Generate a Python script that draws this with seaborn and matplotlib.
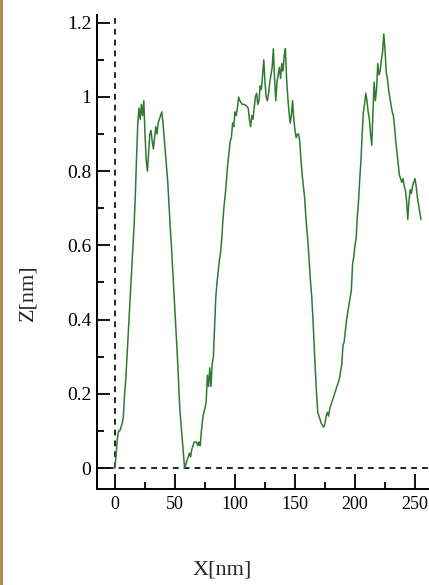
import numpy as np
import pandas as pd
import matplotlib
matplotlib.use("Agg")
import matplotlib.pyplot as plt
import seaborn as sns
from matplotlib.patches import Rectangle

# ===== DATA =====
x_nm = [0, 1, 2, 3, 4, 5, 6, 7, 8, 9, 10, 11, 12, 13, 14, 15, 16, 17, 18, 19,
        20, 21, 22, 23, 24, 25, 26, 27, 28, 29, 30, 31, 32, 33, 34, 35, 36, 37, 38, 39,
        40, 41, 42, 43, 44, 45, 46, 47, 48, 49, 50, 51, 52, 53, 54, 55, 56, 57, 58, 59,
        60, 61, 62, 63, 64, 65, 66, 67, 68, 69, 70, 71, 72, 73, 74, 75, 76, 77, 78, 79,
        80, 81, 82, 83, 84, 85, 86, 87, 88, 89, 90, 91, 92, 93, 94, 95, 96, 97, 98, 99,
        100, 101, 102, 103, 104, 106, 108, 110, 111, 112, 113, 114, 115, 116, 117, 118, 119,
        120, 121, 122, 123, 124, 125, 126, 127, 128, 129, 130, 131, 132, 133, 134, 135, 136,
        137, 138, 139, 140, 141, 142, 143, 144, 145, 146, 147, 148, 149, 150, 151, 152, 153,
        154, 155, 156, 157, 158, 159, 160, 161, 162, 163, 164, 165, 166, 167, 168, 169, 170,
        171, 172, 173, 174, 175, 176, 177, 178, 179, 180, 181, 182, 183, 184, 185, 186, 187,
        188, 189, 190, 191, 192, 193, 194, 195, 196, 197, 198, 199, 200, 201, 202, 203, 204,
        205, 206, 207, 208, 209, 210, 211, 212, 213, 214, 215, 216, 217, 218, 219, 220, 221,
        222, 223, 224, 225, 226, 227, 228, 229, 230, 231, 232, 233, 234, 235, 236, 237, 238,
        239, 240, 241, 242, 243, 244, 245, 246, 247, 248, 249, 250, 251, 252, 253, 254, 255]
z_nm = [0.00, 0.04, 0.08, 0.10, 0.10, 0.11, 0.12, 0.14, 0.20, 0.24, 0.30, 0.36, 0.42, 0.48, 0.54, 0.60, 0.66, 0.74, 0.84, 0.93,
        0.97, 0.94, 0.98, 0.95, 0.99, 0.90, 0.83, 0.80, 0.85, 0.90, 0.91, 0.88, 0.86, 0.89, 0.92, 0.90, 0.93, 0.94, 0.95, 0.96,
        0.93, 0.89, 0.85, 0.81, 0.77, 0.71, 0.65, 0.60, 0.54, 0.48, 0.42, 0.36, 0.30, 0.23, 0.16, 0.12, 0.08, 0.04, 0.00, 0.01,
        0.02, 0.03, 0.04, 0.03, 0.05, 0.06, 0.07, 0.07, 0.07, 0.06, 0.07, 0.06, 0.10, 0.13, 0.15, 0.16, 0.18, 0.25, 0.22, 0.27,
        0.22, 0.28, 0.30, 0.38, 0.46, 0.50, 0.53, 0.56, 0.58, 0.62, 0.67, 0.71, 0.74, 0.78, 0.82, 0.85, 0.88, 0.89, 0.93, 0.92,
        0.96, 0.95, 0.97, 1.00, 0.99, 0.98, 0.98, 0.975, 0.97, 0.94, 0.92, 0.95, 0.94, 0.97, 1.00, 1.01, 0.98,
        0.99, 1.03, 1.02, 1.06, 1.10, 1.04, 1.00, 0.99, 1.01, 1.04, 1.06, 1.08, 1.13, 1.05, 0.99, 1.04, 1.06,
        1.08, 1.05, 1.09, 1.07, 1.11, 1.13, 1.05, 1.00, 0.96, 0.93, 0.95, 0.99, 0.94, 0.91, 0.89, 0.90, 0.90,
        0.88, 0.83, 0.79, 0.76, 0.73, 0.68, 0.64, 0.60, 0.55, 0.50, 0.46, 0.40, 0.33, 0.26, 0.20, 0.15, 0.14,
        0.13, 0.12, 0.115, 0.11, 0.12, 0.14, 0.15, 0.14, 0.16, 0.17, 0.18, 0.19, 0.20, 0.21, 0.22, 0.23, 0.24,
        0.26, 0.28, 0.33, 0.34, 0.37, 0.40, 0.42, 0.44, 0.46, 0.48, 0.55, 0.57, 0.60, 0.62, 0.68, 0.72, 0.78,
        0.83, 0.90, 0.96, 0.98, 1.01, 0.99, 0.96, 0.94, 0.90, 0.87, 0.96, 1.04, 0.99, 1.02, 1.09, 1.06, 1.07,
        1.10, 1.12, 1.17, 1.13, 1.07, 1.05, 1.02, 1.00, 0.98, 0.96, 0.95, 0.92, 0.88, 0.85, 0.82, 0.79, 0.78,
        0.77, 0.78, 0.76, 0.75, 0.72, 0.67, 0.72, 0.75, 0.74, 0.76, 0.77, 0.78, 0.76, 0.73, 0.71, 0.69, 0.67]

x_ticks = [0, 50, 100, 150, 200, 250]
y_ticks = [0, 0.2, 0.4, 0.6, 0.8, 1, 1.2]
y_ticklabels = ["0", "0.2", "0.4", "0.6", "0.8", "1", "1.2"]

df = pd.DataFrame({"X": x_nm, "Z": z_nm})

# ===== STYLE =====
sns.set_style("ticks")
plt.rcParams["font.family"] = ["Liberation Serif", "DejaVu Serif"]

W, H = 429, 585
fig = plt.figure(figsize=(W / 100, H / 100), dpi=100)
fig.patch.set_facecolor("white")

# axes box in pixel terms: y-axis at x=97, x-axis at y=489, top at y=15
ax = fig.add_axes([97 / W, (H - 489) / H, (W - 97) / W, (489 - 15) / H])
ax.set_facecolor("white")

sns.lineplot(data=df, x="X", y="Z", ax=ax, color="#2f7a2f", linewidth=1.1,
             estimator=None, sort=False, zorder=3)

xmin, xmax = -15, 261.7
ymin, ymax = -0.0566, 1.221
ax.set_xlim(xmin, xmax)
ax.set_ylim(ymin, ymax)

# dashed zero lines
ax.axhline(0, color="black", linestyle=(0, (3.5, 3)), linewidth=1.2, zorder=1)
ax.axvline(0, ymin=(0 - ymin) / (ymax - ymin), ymax=1, color="black",
           linestyle=(0, (3.5, 3)), linewidth=1.2, zorder=1)

for side in ["top", "right"]:
    ax.spines[side].set_visible(False)
for side in ["left", "bottom"]:
    ax.spines[side].set_color("black")
    ax.spines[side].set_linewidth(1.4)

ax.set_xticks(x_ticks)
ax.set_xticks([25, 75, 125, 175, 225], minor=True)
ax.set_yticks(y_ticks)
ax.set_yticklabels(y_ticklabels)
ax.set_yticks([0.1, 0.3, 0.5, 0.7, 0.9, 1.1], minor=True)

ax.tick_params(axis="x", which="both", bottom=True, top=False)
ax.tick_params(axis="y", which="both", left=True, right=False)
ax.tick_params(axis="x", which="major", direction="in", length=11, width=1.3,
               labelsize=13, pad=5, colors="black")
ax.tick_params(axis="x", which="minor", direction="in", length=5, width=1.3,
               colors="black")
ax.tick_params(axis="y", which="major", direction="in", length=9, width=1.3,
               labelsize=14, pad=4, colors="black")
ax.tick_params(axis="y", which="minor", direction="in", length=5, width=1.3,
               colors="black")

ax.set_xlabel("")
ax.set_ylabel("")
fig.text(222 / W, 1 - 570 / H, "X[nm]", ha="center", va="center", fontsize=16)
fig.text(28 / W, 1 - 293 / H, "Z[nm]", ha="center", va="center", fontsize=16,
         rotation=90)

# brownish strip on the left edge of the picture
fig.patches.append(Rectangle((0, 0), 3 / W, 1, transform=fig.transFigure,
                             facecolor="#b9874f", edgecolor="none"))

fig.savefig("out.png", dpi=100, facecolor=fig.get_facecolor())
